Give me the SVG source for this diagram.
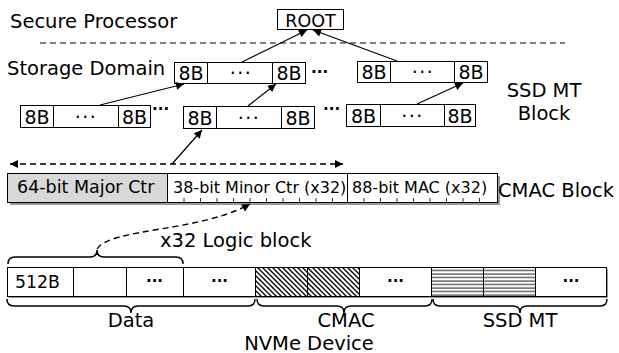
<svg xmlns="http://www.w3.org/2000/svg" width="619" height="353" viewBox="0 0 619 353">
<style>
text{font-family:"DejaVu Sans","Liberation Sans",sans-serif;fill:#000}
.lbl{font-size:19.5px}
.cell{fill:#fff;stroke:#000;stroke-width:1}
.b8{font-size:19px}
.dots{font-size:19px;letter-spacing:1.5px}
.bdots{font-size:15px;font-weight:bold}
.con{stroke:#000;stroke-width:1.2;fill:none}
.dash{stroke:#000;stroke-width:1.4;fill:none;stroke-dasharray:6 4}
.brace{stroke:#000;stroke-width:1.5;fill:none}
.tick{stroke:#000;stroke-width:0.8}
</style>
<defs>
<marker id="ah" viewBox="0 0 10 10" refX="10" refY="5" markerWidth="10" markerHeight="8" markerUnits="userSpaceOnUse" orient="auto-start-reverse">
<path d="M0,0 L10,5 L0,10 Z" fill="#000"/>
</marker>
<pattern id="diag" width="5" height="5" patternUnits="userSpaceOnUse">
<path d="M-1,-1 L6,6 M-1,4 L1,6 M4,-1 L6,1" stroke="#000" stroke-width="1.3"/>
</pattern>
<pattern id="hor" width="6" height="3.5" patternUnits="userSpaceOnUse">
<path d="M0,1 L6,1" stroke="#000" stroke-width="0.9"/>
</pattern>
</defs>

<text class="lbl" x="10" y="28">Secure Processor</text>
<line x1="40" y1="43" x2="565" y2="43" stroke="#000" stroke-width="1" stroke-dasharray="6 4"/>
<text class="lbl" x="7" y="75">Storage Domain</text>

<g id="root">
<rect class="cell" x="277.5" y="9.5" width="66" height="20"/>
<text x="310.5" y="27" font-size="17.5" text-anchor="middle">ROOT</text>
</g>

<g id="mtA">
<rect class="cell" x="174.5" y="62.5" width="33" height="21"/>
<rect class="cell" x="207.5" y="62.5" width="65" height="21"/>
<rect class="cell" x="272.5" y="62.5" width="33" height="21"/>
<text class="b8" x="191" y="80" text-anchor="middle">8B</text>
<text class="dots" x="241" y="80" text-anchor="middle">···</text>
<text class="b8" x="289" y="80" text-anchor="middle">8B</text>
</g>
<text class="bdots" x="311" y="73">...</text>

<g id="mtB">
<rect class="cell" x="357.5" y="61.5" width="33" height="21"/>
<rect class="cell" x="390.5" y="61.5" width="64" height="21"/>
<rect class="cell" x="454.5" y="61.5" width="33" height="21"/>
<text class="b8" x="374" y="79" text-anchor="middle">8B</text>
<text class="dots" x="423" y="79" text-anchor="middle">···</text>
<text class="b8" x="471" y="79" text-anchor="middle">8B</text>
</g>

<g id="mtC">
<rect class="cell" x="20.5" y="105.5" width="33" height="22"/>
<rect class="cell" x="53.5" y="105.5" width="65" height="22"/>
<rect class="cell" x="118.5" y="105.5" width="32" height="22"/>
<text class="b8" x="37" y="124" text-anchor="middle">8B</text>
<text class="dots" x="86" y="124" text-anchor="middle">···</text>
<text class="b8" x="134.5" y="124" text-anchor="middle">8B</text>
</g>
<text class="bdots" x="152" y="110">...</text>

<g id="mtD">
<rect class="cell" x="183.5" y="106.5" width="33" height="22"/>
<rect class="cell" x="216.5" y="106.5" width="65" height="22"/>
<rect class="cell" x="281.5" y="106.5" width="33" height="22"/>
<text class="b8" x="200" y="125" text-anchor="middle">8B</text>
<text class="dots" x="249" y="125" text-anchor="middle">···</text>
<text class="b8" x="298" y="125" text-anchor="middle">8B</text>
</g>
<text class="bdots" x="323" y="110">...</text>

<g id="mtE">
<rect class="cell" x="346.5" y="104.5" width="34" height="22"/>
<rect class="cell" x="380.5" y="104.5" width="64" height="22"/>
<rect class="cell" x="444.5" y="104.5" width="31" height="22"/>
<text class="b8" x="363.5" y="123" text-anchor="middle">8B</text>
<text class="dots" x="412.5" y="123" text-anchor="middle">···</text>
<text class="b8" x="460" y="123" text-anchor="middle">8B</text>
</g>

<text class="lbl" x="544" y="97" text-anchor="middle">SSD MT</text>
<text class="lbl" x="544" y="120" text-anchor="middle">Block</text>

<g id="cmac">
<rect x="10" y="176" width="490" height="29" fill="#999"/>
<rect x="7.5" y="173.5" width="160" height="29" fill="#d9d9d9" stroke="#000"/>
<rect x="167.5" y="173.5" width="180" height="29" fill="#fff" stroke="#000"/>
<rect x="347.5" y="173.5" width="150" height="29" fill="#fff" stroke="#000"/>
<g class="tick">
<line x1="184" y1="202" x2="184" y2="198"/><line x1="200.5" y1="202" x2="200.5" y2="198"/>
<line x1="217" y1="202" x2="217" y2="198"/><line x1="233.5" y1="202" x2="233.5" y2="198"/>
<line x1="250" y1="202" x2="250" y2="198"/><line x1="266.5" y1="202" x2="266.5" y2="198"/>
<line x1="283" y1="202" x2="283" y2="198"/><line x1="299.5" y1="202" x2="299.5" y2="198"/>
<line x1="316" y1="202" x2="316" y2="198"/><line x1="332.5" y1="202" x2="332.5" y2="198"/>
<line x1="364" y1="202" x2="364" y2="198"/><line x1="380.5" y1="202" x2="380.5" y2="198"/>
<line x1="397" y1="202" x2="397" y2="198"/><line x1="413.5" y1="202" x2="413.5" y2="198"/>
<line x1="430" y1="202" x2="430" y2="198"/><line x1="446.5" y1="202" x2="446.5" y2="198"/>
<line x1="463" y1="202" x2="463" y2="198"/><line x1="479.5" y1="202" x2="479.5" y2="198"/>
</g>
<text x="17" y="193" font-size="17.5">64-bit Major Ctr</text>
<text x="173" y="193" font-size="16">38-bit Minor Ctr (x32)</text>
<text x="352" y="193" font-size="16">88-bit MAC (x32)</text>
</g>
<text class="lbl" x="498" y="197">CMAC Block</text>

<text class="lbl" x="160" y="247">x32 Logic block</text>

<g id="nvme">
<rect x="9" y="269" width="599" height="29" fill="#999"/>
<rect x="7.5" y="267.5" width="599" height="29" fill="#fff" stroke="#000"/>
<rect x="255.5" y="267.5" width="104" height="29" fill="url(#diag)"/>
<rect x="431.5" y="267.5" width="104" height="29" fill="url(#hor)"/>
<rect x="7.5" y="267.5" width="599" height="29" fill="none" stroke="#000"/>
<g stroke="#000" stroke-width="1">
<line x1="73.5" y1="267.5" x2="73.5" y2="296.5"/>
<line x1="126.5" y1="267.5" x2="126.5" y2="296.5"/>
<line x1="183.5" y1="267.5" x2="183.5" y2="296.5"/>
<line x1="255.5" y1="267.5" x2="255.5" y2="296.5"/>
<line x1="307.5" y1="267.5" x2="307.5" y2="296.5"/>
<line x1="359.5" y1="267.5" x2="359.5" y2="296.5"/>
<line x1="431.5" y1="267.5" x2="431.5" y2="296.5"/>
<line x1="483.5" y1="267.5" x2="483.5" y2="296.5"/>
<line x1="535.5" y1="267.5" x2="535.5" y2="296.5"/>
</g>
<text x="15" y="288" font-size="17.3">512B</text>
<text class="bdots" x="154.5" y="282" font-size="17" text-anchor="middle">...</text>
<text class="bdots" x="219.5" y="282" font-size="17" text-anchor="middle">...</text>
<text class="bdots" x="395.5" y="282" font-size="17" text-anchor="middle">...</text>
<text class="bdots" x="571" y="282" font-size="17" text-anchor="middle">...</text>
</g>

<g id="braces">
<path class="brace" d="M8,264 Q8,257 15,257 L90,257 Q97,257 97,250 Q97,257 104,257 L176,257 Q183,257 183,264"/>
<path class="brace" d="M7,299 Q7,306 14,306 L124,306 Q131,306 131,313 Q131,306 138,306 L248,306 Q255,306 255,299"/>
<path class="brace" d="M257,299 Q257,306 264,306 L337,306 Q344,306 344,313 Q344,306 351,306 L425,306 Q432,306 432,299"/>
<path class="brace" d="M433,299 Q433,306 440,306 L513,306 Q520,306 520,313 Q520,306 527,306 L600,306 Q607,306 607,299"/>
</g>
<text class="lbl" x="131" y="327" text-anchor="middle">Data</text>
<text class="lbl" x="346" y="326.5" text-anchor="middle">CMAC</text>
<text class="lbl" x="520" y="327" text-anchor="middle">SSD MT</text>
<text class="lbl" x="309" y="349.5" text-anchor="middle">NVMe Device</text>

<g id="connectors">
<line class="con" x1="242" y1="62" x2="307" y2="30" marker-end="url(#ah)"/>
<line class="con" x1="397" y1="61" x2="313" y2="30" marker-end="url(#ah)"/>
<line class="con" x1="100" y1="105" x2="184" y2="84" marker-end="url(#ah)"/>
<line class="con" x1="248" y1="106" x2="276" y2="84" marker-end="url(#ah)"/>
<line class="con" x1="417" y1="104" x2="463" y2="83" marker-end="url(#ah)"/>
<line class="con" x1="172" y1="164" x2="202" y2="130" marker-end="url(#ah)"/>
<line class="dash" x1="10" y1="164" x2="343" y2="164" marker-start="url(#ah)" marker-end="url(#ah)"/>
<path class="dash" d="M97,249 C110,228 200,232 250,204" marker-end="url(#ah)"/>
</g>
</svg>
